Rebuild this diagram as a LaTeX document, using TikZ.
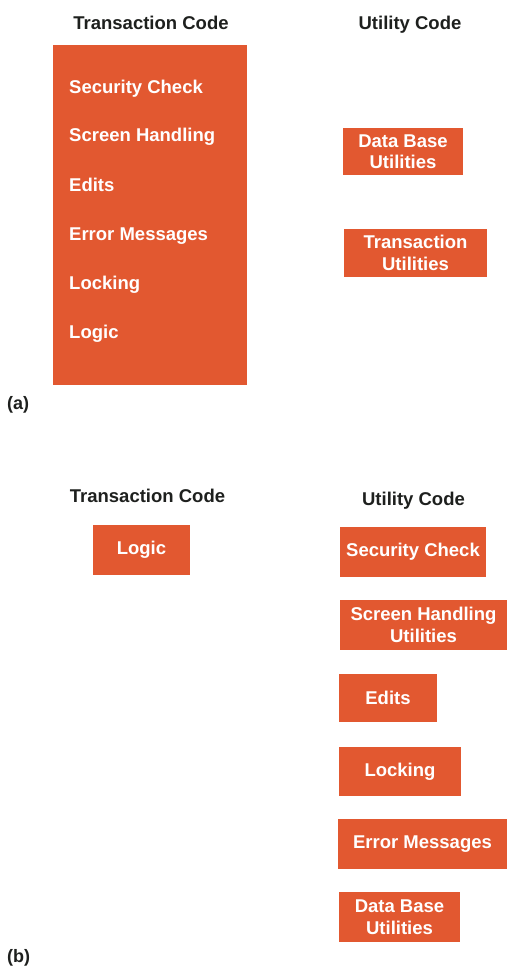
\documentclass[tikz,border=0pt]{standalone}
\usepackage{fontspec}
\setmainfont{Liberation Sans}
\usetikzlibrary{positioning}

\definecolor{boxred}{RGB}{226,88,48}
\definecolor{headgray}{RGB}{30,32,30}

\begin{document}
\begin{tikzpicture}[x=1pt, y=-1pt,
	box/.style = {fill = boxred, text = white, inner sep = 0pt, align = center,
		font = \fontsize{18.5}{21.5}\selectfont\bfseries},
	head/.style = {anchor = base, text = headgray, inner sep = 0pt,
		font = \fontsize{18.5}{21.5}\selectfont\bfseries},
	item/.style = {anchor = base west, text = white, inner sep = 0pt,
		font = \fontsize{18.5}{21.5}\selectfont\bfseries},
	tag/.style = {anchor = base west, text = headgray, inner sep = 0pt,
		font = \fontsize{18}{21}\selectfont\bfseries}]
	\useasboundingbox (0,0) rectangle (507,967);

	% (a)
	\node[head] (tcodeA) at (151,29) {Transaction Code};
	\node[head] (ucodeA) at (410,29) {Utility Code};
	\node[box, minimum width = 194pt, minimum height = 340pt] (tbox) at (149.5,215) {};
	\node[item] (sec) at (69,93) {Security Check};
	\node[item] (scr) at (69,141) {Screen Handling};
	\node[item] (edt) at (69,191) {Edits};
	\node[item] (err) at (69,240) {Error Messages};
	\node[item] (lck) at (69,289) {Locking};
	\node[item] (lgc) at (69,338) {Logic};
	\node[box, minimum width = 120pt, minimum height = 47pt] (dbA) at (403,151.5) {Data Base\\Utilities};
	\node[box, minimum width = 143pt, minimum height = 48pt] (trA) at (415.5,253) {Transaction\\Utilities};
	\node[tag] (a) at (7,409) {(a)};

	% (b)
	\node[head] (tcodeB) at (147.5,502) {Transaction Code};
	\node[head] (ucodeB) at (413.5,505) {Utility Code};
	\node[box, minimum width = 97pt, minimum height = 50pt] (lgcB) at (141.5,550) {Logic};
	\node[box, minimum width = 146pt, minimum height = 50pt] (secB) at (413,552) {Security Check};
	\node[box, minimum width = 167pt, minimum height = 50pt] (scrB) at (423.5,625) {Screen Handling\\Utilities};
	\node[box, minimum width = 98pt, minimum height = 48pt] (edtB) at (388,698) {Edits};
	\node[box, minimum width = 122pt, minimum height = 49pt] (lckB) at (400,771.5) {Locking};
	\node[box, minimum width = 169pt, minimum height = 50pt] (errB) at (422.5,844) {Error Messages};
	\node[box, minimum width = 121pt, minimum height = 50pt] (dbB) at (399.5,917) {Data Base\\Utilities};
	\node[tag] (b) at (7,962) {(b)};
\end{tikzpicture}
\end{document}
